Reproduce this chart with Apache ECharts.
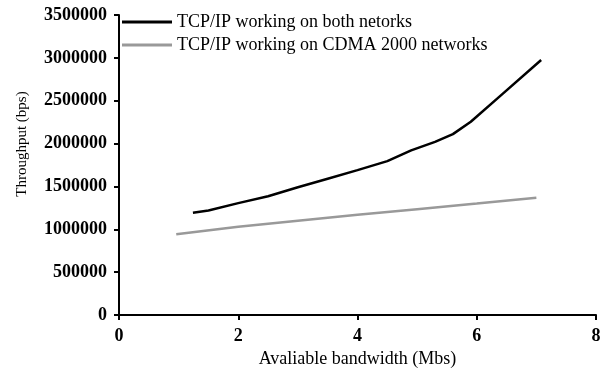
<!DOCTYPE html>
<html>
<head>
<meta charset="utf-8">
<script src="https://cdn.jsdelivr.net/npm/echarts@6/dist/echarts.min.js"></script>
<style>
  html, body { margin: 0; padding: 0; background: #fff; }
  #chart { width: 600px; height: 371px; }
</style>
</head>
<body>
<div id="chart"></div>
<script>
// Throughput vs available bandwidth
const seriesNames = ["TCP/IP working on both netorks", "TCP/IP working on CDMA 2000 networks"];
const bothX = [1.24, 1.5, 2, 2.5, 3, 3.5, 4, 4.5, 4.9, 5.3, 5.6, 5.9, 6.4, 7.08];
const bothY = [1193000, 1220000, 1305000, 1385000, 1490000, 1590000, 1690000, 1795000, 1920000, 2020000, 2110000, 2255000, 2560000, 2975000];
const cdmaX = [0.96, 2, 3, 4, 5, 6, 7];
const cdmaY = [941000, 1030000, 1100000, 1170000, 1235000, 1300000, 1368000];

const font = "'Liberation Serif', 'DejaVu Serif', serif";

const chart = echarts.init(document.getElementById("chart"));
chart.setOption({
  animation: false,
  grid: { left: 119, right: 4, top: 15, bottom: 56, outerBoundsMode: "none" },
  legend: {
    orient: "vertical",
    left: 117,
    top: 8,
    itemWidth: 50,
    itemHeight: 3,
    itemGap: 5,
    icon: "rect",
    textStyle: { fontFamily: font, fontSize: 18, color: "#000" },
    data: seriesNames,
  },
  xAxis: {
    type: "value",
    min: 0,
    max: 8,
    interval: 2,
    name: "Avaliable bandwidth (Mbs)",
    nameLocation: "middle",
    nameGap: 35,
    nameTextStyle: { fontFamily: font, fontSize: 18, color: "#000" },
    axisLine: { show: true, lineStyle: { color: "#000", width: 2 } },
    axisTick: { show: true, length: 5, lineStyle: { color: "#000", width: 2 } },
    axisLabel: { fontFamily: font, fontSize: 18, fontWeight: "bold", color: "#000", margin: 12 },
    splitLine: { show: false },
  },
  yAxis: {
    type: "value",
    min: 0,
    max: 3500000,
    interval: 500000,
    name: "Throughput (bps)",
    nameLocation: "middle",
    nameGap: 89,
    nameTextStyle: { fontFamily: font, fontSize: 15, color: "#000", padding: [0, 0, 0, 42] },
    axisLine: { show: true, lineStyle: { color: "#000", width: 2 } },
    axisTick: { show: true, length: 5, lineStyle: { color: "#000", width: 2 } },
    axisLabel: {
      fontFamily: font, fontSize: 18, fontWeight: "bold", color: "#000", margin: 12,
      formatter: (v) => String(v),
    },
    splitLine: { show: false },
  },
  series: [
    {
      name: seriesNames[0],
      type: "line",
      showSymbol: false,
      color: "#000",
      lineStyle: { color: "#000", width: 2.5 },
      data: bothX.map((x, i) => [x, bothY[i]]),
    },
    {
      name: seriesNames[1],
      type: "line",
      showSymbol: false,
      color: "#999",
      lineStyle: { color: "#999", width: 2.5 },
      data: cdmaX.map((x, i) => [x, cdmaY[i]]),
    },
  ],
});
</script>
</body>
</html>
